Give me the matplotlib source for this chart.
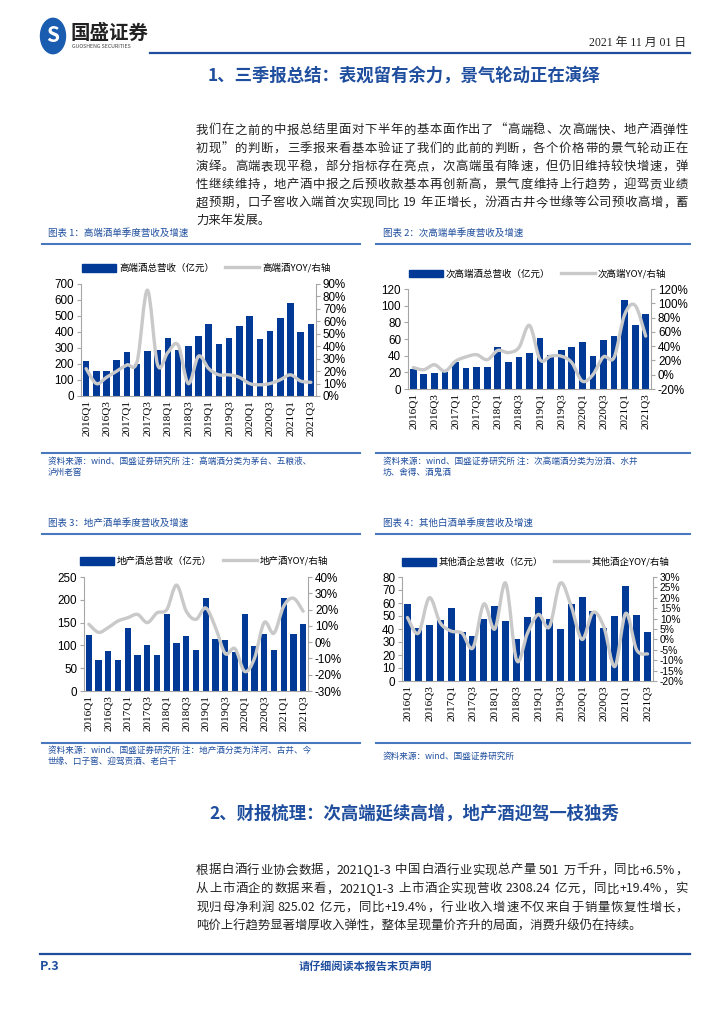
import re
import numpy as np
import matplotlib
matplotlib.use("Agg")
import matplotlib.pyplot as plt
from matplotlib.path import Path
from matplotlib.patches import PathPatch, Circle
from matplotlib.lines import Line2D
from matplotlib.ticker import FuncFormatter

plt.rcParams['font.family'] = ['Noto Sans CJK SC', 'DejaVu Sans']

# ---------------- data ----------------
quarters = [f"{y}Q{q}" for y in range(2016, 2022) for q in range(1, 5)][:23]

high_rev = [220, 155, 155, 225, 272, 202, 282, 287, 365, 285, 310, 375,
            450, 328, 365, 435, 498, 357, 405, 490, 580, 403, 447]
high_yoy = [22, 10, 15, 20, 25, 28, 85, 25, 35, 41, 10, 32,
            22, 17, 17, 15, 10, 9, 10, 13, 17, 12, 11]

sub_rev = [24, 18, 19, 21, 33, 25, 27, 26, 50, 33, 38, 43,
           61, 41, 47, 51, 57, 40, 59, 64, 107, 77, 90]
sub_yoy = [10, 7, 14, 5, 19, 25, 28, 21, 34, 31, 38, 69,
           21, 26, 26, 17, -9, 0, 25, 24, 84, 97, 54]

loc_rev = [123, 68, 87, 69, 139, 79, 100, 80, 169, 105, 121, 91,
           204, 113, 112, 86, 168, 98, 125, 91, 203, 124, 147]
loc_yoy = [11, 6, 9, 13, 15, 17, 12, 18, 20, 35, 19, 14,
           21, 9, -7, -4, -18, -10, 12, 5.5, 22, 27, 19]

oth_rev = [59, 41, 43, 47, 56, 38, 35, 48, 58, 46, 32, 49,
           65, 48, 40, 59, 65, 54, 41, 50, 73, 51, 38]
oth_yoy = [10.5, 3, 20, 8, 4, 3, -4, 17, 5, 27, -10, 3,
           12, 6, 27, 16, 0, 13, 6, -13, 12.5, -5, -7]

para1 = ['我们在之前的中报总结里面对下半年的基本面作出了“高端稳、次高端快、地产酒弹性',
         '初现”的判断，三季报来看基本验证了我们的此前的判断，各个价格带的景气轮动正在',
         '演绎。高端表现平稳，部分指标存在亮点，次高端虽有降速，但仍旧维持较快增速，弹',
         '性继续维持，地产酒中报之后预收款基本再创新高，景气度维持上行趋势，迎驾贡业绩',
         '超预期，口子窖收入端首次实现同比 19 年正增长，汾酒古井今世缘等公司预收高增，蓄',
         '力来年发展。']
para2 = ['根据白酒行业协会数据，2021Q1-3 中国白酒行业实现总产量 501 万千升，同比+6.5%，',
         '从上市酒企的数据来看，2021Q1-3 上市酒企实现营收 2308.24 亿元，同比+19.4%，实',
         '现归母净利润 825.02 亿元，同比+19.4%，行业收入增速不仅来自于销量恢复性增长，',
         '吨价上行趋势显著增厚收入弹性，整体呈现量价齐升的局面，消费升级仍在持续。']

W, H = 724, 1024
BLUE = '#003A96'
GREY = '#C9C9C9'
TBLUE = '#1F4E9E'
SPINE = '#A6A6A6'
SANS = ['Liberation Sans', 'Noto Sans CJK SC']
SERIF = ['Liberation Serif', 'Noto Sans CJK SC']

fig = plt.figure(figsize=(W / 100, H / 100), dpi=100)
renderer = fig.canvas.get_renderer()


def fx(x):
    return x / W


def fy(y):
    return 1 - y / H


def hline(x0, x1, y, color=TBLUE, lw=1.5):
    fig.add_artist(Line2D([fx(x0), fx(x1)], [fy(y), fy(y)], color=color, lw=lw,
                          transform=fig.transFigure))


def text_w(s, size):
    t = fig.text(0, 0, s, fontsize=size)
    w = t.get_window_extent(renderer).width
    t.remove()
    return w


def justified(lines, x0, x1, y0, dy, size, last_free=True):
    # spread the tokens of each line over x0..x1 like a justified paragraph
    ref = text_w('中中', size)
    for i, s in enumerate(lines):
        y = y0 + i * dy
        if last_free and i == len(lines) - 1:
            fig.text(fx(x0), fy(y), s, fontsize=size, va='center', color='#222222')
            continue
        toks = re.findall(r'[\x21-\x7e]+| |.', s)
        widths = [text_w('中' + tk + '中', size) - ref for tk in toks]
        gap = (x1 - x0 - sum(widths)) / (len(toks) - 1)
        x = x0
        for tk, w in zip(toks, widths):
            if tk != ' ':
                fig.text(fx(x), fy(y), tk, fontsize=size, va='center', color='#222222')
            x += w + gap


def smooth_path(xs, ys):
    # Catmull-Rom style smooth line through the data points (like Excel smoothed line)
    p = np.column_stack([xs, ys]).astype(float)
    ext = np.vstack([p[0], p, p[-1]])
    verts = [p[0]]
    codes = [Path.MOVETO]
    for i in range(len(p) - 1):
        p0, p1, p2, p3 = ext[i], ext[i + 1], ext[i + 2], ext[i + 3]
        verts += [p1 + (p2 - p0) / 6, p2 - (p3 - p1) / 6, p2]
        codes += [Path.CURVE4] * 3
    return Path(verts, codes)


def chart(l, t, r, b, rev, yoy, ylim, yticks, rlim, rticks, bar_lbl, line_lbl, leg_y,
          rsize=8.4):
    ax = fig.add_axes([fx(l), fy(b), fx(r - l), fy(t) - fy(b)])
    x = np.arange(len(quarters))
    ax.bar(x, rev, width=0.64, color=BLUE, zorder=2)
    ax.set_xlim(-0.5, len(quarters) - 0.5)
    ax.set_ylim(*ylim)
    ax.set_yticks(yticks)
    ax.set_xticks(x[::2])
    ax.set_xticklabels(quarters[::2], rotation=90, fontsize=8, family=SERIF)
    ax.tick_params(axis='y', labelsize=8.4, length=3, color=SPINE, pad=2)
    ax.tick_params(axis='x', length=0, pad=3)
    for s in ['top', 'right']:
        ax.spines[s].set_visible(False)
    for s in ['left', 'bottom']:
        ax.spines[s].set_color(SPINE)
        ax.spines[s].set_linewidth(0.8)

    ax2 = ax.twinx()
    ax2.add_patch(PathPatch(smooth_path(x, yoy), fill=False, edgecolor=GREY, lw=2.4,
                            zorder=3, capstyle='round'))
    ax2.set_ylim(*rlim)
    ax2.set_yticks(rticks)
    ax2.yaxis.set_major_formatter(FuncFormatter(lambda v, p: f"{v:g}%"))
    ax2.tick_params(axis='y', labelsize=rsize, length=3, color=SPINE, pad=2)
    for s in ['top', 'left', 'bottom']:
        ax2.spines[s].set_visible(False)
    ax2.spines['right'].set_color(SPINE)
    ax2.spines['right'].set_linewidth(0.8)
    for lab in ax.get_yticklabels() + ax2.get_yticklabels():
        lab.set_family(SANS)

    handles = [plt.Rectangle((0, 0), 1, 1, color=BLUE),
               Line2D([0], [0], color=GREY, lw=2.4)]
    fig.legend(handles, [bar_lbl, line_lbl], loc='center',
               bbox_to_anchor=(fx((l + r) / 2 + 8), fy(leg_y)), ncol=2, frameon=False,
               fontsize=6.8, handlelength=3.6, handleheight=0.9, columnspacing=1.2,
               handletextpad=0.3)
    return ax, ax2


# ---------------- header ----------------
fig.add_artist(Circle((fx(53), fy(36)), 12.5 / W, transform=fig.transFigure,
                      color='#1A5DB0'))
fig.text(fx(53), fy(36), 'S', color='white', fontsize=15, fontweight='bold',
         ha='center', va='center')
fig.text(fx(71), fy(33), '国盛证券', fontsize=14, fontweight='bold', color='#222222',
         va='center')
fig.text(fx(72), fy(46.5), 'GUOSHENG SECURITIES', fontsize=3.8, color='#444444',
         va='center')
fig.text(fx(686), fy(43), '2021 年 11 月 01 日', fontsize=8.5, ha='right', va='center',
         color='#222222', family=SERIF)
hline(150, 690, 52.5, color=TBLUE, lw=1.6)

fig.text(fx(404), fy(76), '1、三季报总结：表观留有余力，景气轮动正在演绎', fontsize=12.5,
         fontweight='bold', color=TBLUE, ha='center', va='center')

justified(para1, 196, 688, 130, 18.2, 8.9)

# ---------------- charts ----------------
titles = [(48, 233, '图表 1：高端酒单季度营收及增速', 42, 360, 244),
          (383, 233, '图表 2：次高端单季度营收及增速', 376, 690, 244),
          (48, 523, '图表 3：地产酒单季度营收及增速', 42, 360, 534),
          (383, 523, '图表 4：其他白酒单季度营收及增速', 376, 690, 534)]
for tx, ty, s, x0, x1, ly in titles:
    fig.text(fx(tx), fy(ty), s, fontsize=6.8, color=TBLUE, va='center')
    hline(x0, x1, ly, color='#4A78BE', lw=1.5)

chart(81, 284, 316, 396, high_rev, high_yoy, (0, 700), range(0, 701, 100),
      (0, 90), range(0, 91, 10), '高端酒总营收（亿元）', '高端酒YOY/右轴', 268)
chart(408, 289, 651, 389, sub_rev, sub_yoy, (0, 120), range(0, 121, 20),
      (-20, 120), range(-20, 121, 20), '次高端酒总营收（亿元）', '次高端YOY/右轴', 274)
chart(84, 577, 308, 691, loc_rev, loc_yoy, (0, 250), range(0, 251, 50),
      (-30, 40), range(-30, 41, 10), '地产酒总营收（亿元）', '地产酒YOY/右轴', 561)
chart(402, 577, 653, 681, oth_rev, oth_yoy, (0, 80), range(0, 81, 10),
      (-20, 30), range(-20, 31, 5), '其他酒企总营收（亿元）', '其他酒企YOY/右轴', 562,
      rsize=7.4)

# source notes
hline(42, 360, 453, color='#4A78BE', lw=1.5)
hline(376, 690, 453, color='#4A78BE', lw=1.5)
hline(42, 360, 743, color='#4A78BE', lw=1.5)
hline(376, 690, 743, color='#4A78BE', lw=1.5)
notes = [(48, 461, '资料来源：wind、国盛证券研究所 注：高端酒分类为茅台、五粮液、'),
         (48, 472, '泸州老窖'),
         (383, 461, '资料来源：wind、国盛证券研究所 注：次高端酒分类为汾酒、水井'),
         (383, 472, '坊、舍得、酒鬼酒'),
         (48, 750, '资料来源：wind、国盛证券研究所 注：地产酒分类为洋河、古井、今'),
         (48, 761, '世缘、口子窖、迎驾贡酒、老白干'),
         (383, 756, '资料来源：wind、国盛证券研究所')]
for x, y, s in notes:
    fig.text(fx(x), fy(y), s, fontsize=6.2, color=TBLUE, va='center')

# ---------------- section 2 ----------------
fig.text(fx(414), fy(813), '2、财报梳理：次高端延续高增，地产酒迎驾一枝独秀', fontsize=12.5,
         fontweight='bold', color=TBLUE, ha='center', va='center')
justified(para2, 196, 688, 870, 18.8, 8.9)

# ---------------- footer ----------------
hline(40, 690, 954, color=TBLUE, lw=1.6)
fig.text(fx(40), fy(966), 'P.3', fontsize=9, fontweight='bold', style='italic',
         color=TBLUE, va='center')
fig.text(fx(365), fy(966), '请仔细阅读本报告末页声明', fontsize=8, fontweight='bold',
         color=TBLUE, va='center', ha='center')

fig.savefig('out.png', dpi=100)
